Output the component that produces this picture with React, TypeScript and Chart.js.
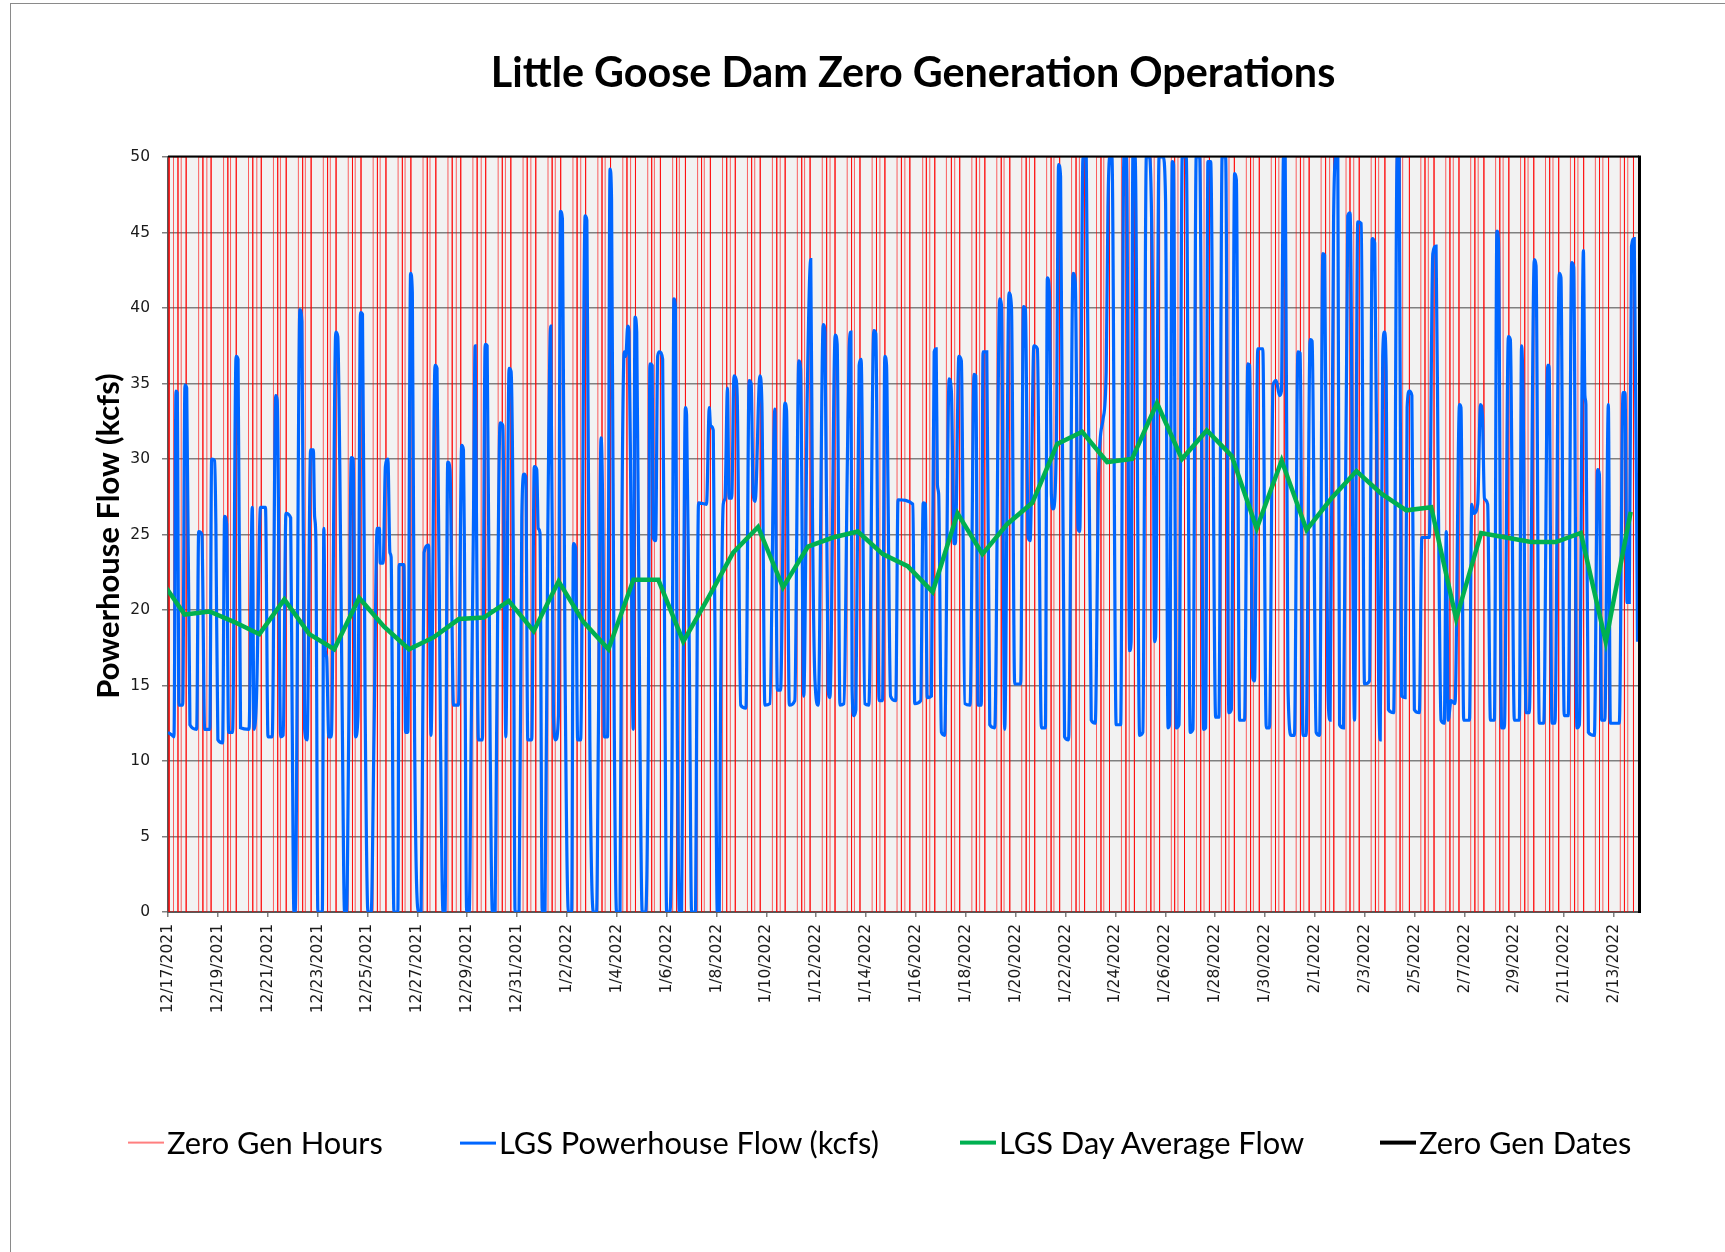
import { useEffect, useRef } from 'react';
import { Chart, registerables } from 'chart.js';

Chart.register(...registerables);

const TITLE = 'Little Goose Dam Zero Generation Operations';
const Y_TITLE = 'Powerhouse Flow (kcfs)';
const SERIES_NAMES = ['Zero Gen Hours', 'LGS Powerhouse Flow (kcfs)', 'LGS Day Average Flow', 'Zero Gen Dates'];

// x axis: days since 12/17/2021 00:00, a label every 2 days
const DATE_LABELS = [
  '12/17/2021', '12/19/2021', '12/21/2021', '12/23/2021', '12/25/2021', '12/27/2021',
  '12/29/2021', '12/31/2021', '1/2/2022', '1/4/2022', '1/6/2022', '1/8/2022',
  '1/10/2022', '1/12/2022', '1/14/2022', '1/16/2022', '1/18/2022', '1/20/2022',
  '1/22/2022', '1/24/2022', '1/26/2022', '1/28/2022', '1/30/2022', '2/1/2022',
  '2/3/2022', '2/5/2022', '2/7/2022', '2/9/2022', '2/11/2022', '2/13/2022',
];
const DAYS_SHOWN = 59;
const Y_TICKS = [0, 5, 10, 15, 20, 25, 30, 35, 40, 45, 50];

// LGS Powerhouse Flow (kcfs): [day since 12/17/2021, kcfs]
const POWERHOUSE_FLOW: number[][] = [
  [0, 11.9], [0.17, 11.7], [0.24, 11.6], [0.32, 34.5], [0.37, 34.4], [0.44, 13.7], [0.59, 13.7], [0.68, 34.9], [0.75, 34.7], [0.88, 12.4],
  [1.15, 12.1], [1.23, 25.2], [1.36, 25.0], [1.47, 12.1], [1.68, 12.1], [1.75, 30.0], [1.87, 29.9], [1.92, 25.7], [2.0, 11.4], [2.19, 11.2],
  [2.27, 26.2], [2.35, 25.7], [2.43, 11.9], [2.59, 11.9], [2.73, 36.8], [2.81, 36.6], [2.91, 12.2], [3.25, 12.1], [3.38, 26.8], [3.45, 12.1],
  [3.55, 14.2], [3.71, 26.8], [3.91, 26.8], [4.01, 11.6], [4.18, 11.6], [4.32, 34.2], [4.38, 33.9], [4.52, 11.6], [4.62, 11.7], [4.73, 26.4],
  [4.92, 26.1], [4.98, 13.0], [5.05, 0], [5.10, 0], [5.29, 39.9], [5.37, 39.1], [5.48, 12.1], [5.58, 11.4], [5.72, 30.6], [5.83, 30.6],
  [5.88, 26.2], [5.93, 24.8], [6.01, 0], [6.19, 0], [6.25, 25.4], [6.31, 17.3], [6.36, 16.9], [6.45, 11.6], [6.55, 11.6], [6.73, 38.4],
  [6.81, 38.1], [6.89, 29.6], [6.99, 12.7], [7.08, 0], [7.16, 0], [7.25, 12.1], [7.35, 30.1], [7.43, 30.0], [7.52, 11.6], [7.62, 13.0],
  [7.72, 39.7], [7.80, 39.6], [7.91, 13.0], [8.02, 0], [8.15, 0], [8.26, 11.4], [8.39, 25.4], [8.48, 25.4], [8.51, 23.1], [8.63, 23.1],
  [8.72, 29.5], [8.82, 30.0], [8.90, 23.8], [8.95, 23.5], [9.06, 0], [9.22, 0], [9.27, 23.0], [9.46, 23.0], [9.53, 11.9], [9.62, 11.9],
  [9.73, 42.3], [9.80, 41.0], [9.89, 11.7], [10.05, 0], [10.15, 0], [10.21, 10.7], [10.27, 23.8], [10.45, 24.3], [10.55, 11.7], [10.71, 36.2],
  [10.79, 36.0], [10.93, 11.4], [11.03, 0], [11.11, 0], [11.22, 29.8], [11.31, 29.3], [11.45, 13.7], [11.65, 13.7], [11.78, 30.9], [11.85, 30.6],
  [11.89, 23.8], [11.98, 0], [12.08, 0], [12.16, 11.7], [12.25, 25.6], [12.32, 37.5], [12.37, 26.7], [12.45, 11.4], [12.61, 11.4], [12.72, 37.6],
  [12.80, 37.5], [12.92, 11.4], [13.01, 0], [13.12, 0], [13.18, 11.7], [13.32, 32.4], [13.43, 32.2], [13.55, 11.6], [13.68, 36.0], [13.76, 35.8],
  [13.85, 23.8], [13.92, 0], [14.08, 0], [14.19, 26.1], [14.28, 29.0], [14.35, 28.8], [14.43, 11.4], [14.59, 11.4], [14.69, 29.5], [14.79, 29.3],
  [14.85, 25.4], [14.92, 25.1], [15.01, 0], [15.12, 0], [15.23, 24.4], [15.35, 38.8], [15.46, 13.0], [15.55, 11.4], [15.66, 13.0], [15.74, 46.4],
  [15.82, 45.9], [15.92, 17.3], [16.06, 0], [16.19, 0], [16.26, 24.4], [16.35, 24.1], [16.43, 11.4], [16.55, 11.4], [16.73, 46.1], [16.80, 45.8],
  [16.92, 11.4], [17.06, 0], [17.19, 0], [17.26, 11.4], [17.37, 31.4], [17.45, 24.4], [17.50, 11.6], [17.63, 11.6], [17.73, 49.2], [17.79, 47.2],
  [17.90, 12.1], [17.99, 0], [18.13, 0], [18.20, 24.4], [18.30, 37.1], [18.36, 36.8], [18.44, 38.8], [18.49, 38.4], [18.57, 26.1], [18.66, 12.1],
  [18.73, 39.4], [18.80, 38.4], [18.93, 11.4], [19.02, 0], [19.16, 0], [19.26, 11.4], [19.33, 36.3], [19.42, 36.2], [19.46, 24.8], [19.56, 24.6],
  [19.64, 36.8], [19.71, 37.1], [19.84, 36.6], [19.93, 14.7], [20.0, 0], [20.13, 0], [20.21, 8.1], [20.29, 40.6], [20.35, 40.1], [20.43, 11.4],
  [20.51, 0], [20.60, 0], [20.67, 17.3], [20.75, 33.4], [20.80, 32.9], [20.91, 16.9], [21.0, 0], [21.16, 0], [21.20, 11.4], [21.28, 27.1],
  [21.60, 27.0], [21.71, 33.4], [21.76, 32.2], [21.87, 31.9], [21.98, 8.1], [22.03, 0], [22.11, 0], [22.16, 13.4], [22.27, 27.0], [22.34, 27.4],
  [22.44, 34.7], [22.50, 27.4], [22.61, 27.4], [22.70, 35.5], [22.78, 35.3], [22.83, 34.2], [22.97, 13.7], [23.18, 13.5], [23.31, 35.2], [23.39, 35.0],
  [23.47, 27.7], [23.55, 27.2], [23.74, 35.5], [23.82, 33.7], [23.94, 13.7], [24.14, 13.8], [24.34, 33.3], [24.44, 14.7], [24.57, 14.7], [24.74, 33.7],
  [24.81, 33.2], [24.92, 13.7], [25.14, 14.0], [25.30, 36.5], [25.37, 36.0], [25.50, 14.3], [25.64, 34.2], [25.78, 43.2], [25.85, 26.1], [25.95, 15.3],
  [26.08, 13.7], [26.28, 38.9], [26.35, 38.4], [26.48, 14.7], [26.55, 14.2], [26.76, 38.2], [26.84, 37.6], [26.95, 13.7], [27.11, 13.8], [27.25, 30.0],
  [27.32, 37.3], [27.39, 38.4], [27.44, 14.7], [27.51, 13.0], [27.59, 13.4], [27.72, 36.2], [27.80, 36.6], [27.95, 13.8], [28.11, 13.7], [28.31, 38.5],
  [28.39, 38.3], [28.52, 14.0], [28.66, 14.0], [28.75, 36.8], [28.82, 36.2], [28.88, 27.7], [28.98, 14.3], [29.19, 14.0], [29.28, 27.3], [29.88, 27.0],
  [29.95, 13.8], [30.19, 14.0], [30.29, 27.1], [30.38, 27.0], [30.45, 14.2], [30.62, 14.3], [30.73, 37.1], [30.81, 37.3], [30.86, 28.3], [30.91, 27.7],
  [31.02, 11.9], [31.15, 11.7], [31.33, 35.3], [31.42, 34.5], [31.53, 24.4], [31.58, 24.4], [31.72, 36.8], [31.82, 36.5], [31.96, 13.8], [32.17, 13.7],
  [32.33, 35.6], [32.40, 35.5], [32.49, 13.7], [32.62, 13.7], [32.69, 37.1], [32.84, 37.1], [32.96, 12.4], [33.16, 12.2], [33.36, 40.6], [33.43, 40.2],
  [33.56, 12.1], [33.73, 41.0], [33.83, 40.1], [33.96, 15.1], [34.20, 15.1], [34.31, 40.1], [34.39, 39.9], [34.50, 24.8], [34.58, 24.6], [34.73, 37.5],
  [34.87, 37.3], [35.03, 12.2], [35.19, 12.2], [35.27, 42.0], [35.36, 40.7], [35.43, 27.7], [35.50, 26.7], [35.63, 30.9], [35.72, 49.5], [35.80, 48.7],
  [35.96, 11.6], [36.12, 11.4], [36.30, 42.3], [36.39, 41.7], [36.50, 25.4], [36.57, 25.2], [36.70, 50], [36.83, 50], [37.03, 12.7], [37.19, 12.5],
  [37.33, 29.3], [37.50, 32.6], [37.63, 35.8], [37.70, 46.6], [37.77, 50], [37.86, 50], [38.03, 12.4], [38.21, 12.4], [38.34, 50], [38.44, 50],
  [38.57, 17.3], [38.63, 17.9], [38.70, 50], [38.79, 50], [38.97, 11.7], [39.10, 11.9], [39.24, 50], [39.37, 50], [39.51, 36.8], [39.57, 17.9],
  [39.61, 18.2], [39.75, 50], [39.91, 50], [40.01, 47.2], [40.11, 12.2], [40.17, 12.4], [40.28, 49.7], [40.33, 49.5], [40.44, 12.2], [40.55, 12.4],
  [40.68, 50], [40.84, 50], [41.00, 11.9], [41.11, 12.1], [41.24, 50], [41.38, 50], [41.54, 12.1], [41.62, 12.2], [41.71, 49.7], [41.82, 49.7],
  [42.02, 12.9], [42.15, 12.9], [42.28, 50], [42.42, 50], [42.55, 13.2], [42.65, 13.4], [42.78, 48.9], [42.85, 48.5], [42.98, 12.7], [43.18, 12.7],
  [43.31, 36.3], [43.38, 36.2], [43.51, 15.5], [43.58, 15.3], [43.71, 37.3], [43.91, 37.3], [44.05, 12.2], [44.18, 12.2], [44.32, 34.9], [44.45, 35.2],
  [44.58, 34.2], [44.66, 34.5], [44.74, 50], [44.81, 50], [44.92, 15.0], [45.05, 11.7], [45.18, 11.7], [45.32, 37.1], [45.41, 37.0], [45.52, 11.7],
  [45.65, 11.7], [45.81, 37.9], [45.89, 37.8], [46.05, 11.9], [46.19, 11.7], [46.32, 43.6], [46.39, 43.5], [46.52, 15.0], [46.61, 12.7], [46.75, 45.9],
  [46.85, 50], [46.92, 50], [46.99, 12.4], [47.15, 12.2], [47.32, 46.1], [47.41, 46.3], [47.59, 12.7], [47.72, 45.7], [47.86, 45.6], [47.99, 15.1],
  [48.19, 15.3], [48.30, 44.6], [48.40, 44.3], [48.56, 14.7], [48.62, 11.4], [48.72, 36.8], [48.79, 38.4], [48.86, 35.8], [48.95, 13.4], [49.16, 13.2],
  [49.30, 50], [49.38, 50], [49.48, 14.3], [49.62, 14.2], [49.70, 33.4], [49.79, 34.5], [49.89, 34.2], [49.99, 13.4], [50.19, 13.2], [50.29, 24.8],
  [50.59, 24.8], [50.73, 43.6], [50.86, 44.1], [50.95, 27.7], [51.06, 12.7], [51.19, 12.5], [51.27, 25.2], [51.35, 12.7], [51.46, 14.0], [51.62, 13.8],
  [51.80, 33.6], [51.86, 33.4], [51.97, 12.7], [52.20, 12.7], [52.29, 27.0], [52.37, 26.4], [52.53, 27.0], [52.64, 33.6], [52.72, 32.9], [52.80, 27.4],
  [52.93, 27.0], [53.04, 12.7], [53.20, 12.7], [53.30, 45.1], [53.36, 44.6], [53.49, 12.2], [53.60, 12.2], [53.76, 38.1], [53.84, 37.9], [54.00, 12.7],
  [54.20, 12.7], [54.29, 37.5], [54.35, 34.2], [54.47, 13.2], [54.60, 13.2], [54.80, 43.2], [54.87, 42.8], [55.00, 12.5], [55.18, 12.5], [55.34, 36.2],
  [55.39, 36.2], [55.51, 12.5], [55.63, 12.5], [55.80, 42.3], [55.87, 42.0], [56.00, 13.0], [56.16, 13.0], [56.30, 43.0], [56.38, 42.7], [56.51, 12.2],
  [56.61, 12.4], [56.77, 43.8], [56.83, 34.2], [56.87, 33.6], [56.97, 11.9], [57.21, 11.7], [57.34, 29.3], [57.41, 29.0], [57.50, 12.7], [57.63, 12.7],
  [57.77, 33.6], [57.85, 12.5], [58.21, 12.5], [58.36, 34.4], [58.44, 34.4], [58.52, 20.5], [58.61, 20.5], [58.70, 44.1], [58.81, 44.6], [58.94, 17.9],
];

// LGS Day Average Flow (kcfs), one value per day from 12/16/2021 to 2/13/2022
const AVG_FIRST_DAY = -1;
const AVG_PLOT_HOUR = 16;
const DAY_AVERAGE_FLOW = [
  22.1,
  19.7, 19.9, 19.2, 18.4, 20.7, 18.4, 17.4, 20.8, 18.9, 17.4,
  18.2, 19.4, 19.5, 20.6, 18.6, 21.9, 19.2, 17.4, 22.0, 22.0,
  17.9, 20.8, 23.8, 25.5, 21.5, 24.2, 24.8, 25.2, 23.7, 22.9,
  21.2, 26.4, 23.7, 25.7, 27.1, 31.0, 31.8, 29.8, 30.0, 33.7,
  30.0, 31.9, 30.2, 25.4, 29.9, 25.3, 27.4, 29.2, 27.7, 26.6,
  26.8, 19.4, 25.1, 24.8, 24.5, 24.5, 25.1, 17.9, 26.5,
];

// Zero Gen Hours: hour-of-day on/off switches for each day (on, off, on, off ...)
const ZERO_GEN_HOURS: number[][] = [
  [0, 1.2, 5.3, 9.6, 12.7, 17.5], [5.5, 9.6, 13.4, 17.5], [5.5, 9.6, 12.2, 17.7], [5.5, 9.6, 13.5, 17.8], [5.5, 9.6, 12.2, 17.8],
  [5.5, 9.6, 12.2, 17.8], [5.5, 9.6, 12.2, 17.8], [5.5, 9.6, 12.2, 17.8], [5.5, 9.6, 12.2, 17.8], [5.5, 9.6, 12.2, 17.8],
  [5.5, 9.6, 12.2, 17.8], [5.5, 9.6, 13.5, 17.8], [5.5, 9.6, 13.5, 17.8], [5.8, 9.8, 12.8, 18.0], [5.8, 9.8, 13.3, 18.0],
  [5.8, 9.8, 12.8, 18.0], [5.8, 9.8, 13.3, 18.0], [5.8, 9.8, 12.8, 18.0], [5.8, 9.8, 13.3, 18.0], [5.8, 9.6, 12.2, 18.0],
  [5.8, 9.6, 12.2, 18.1], [5.8, 9.6, 12.2, 18.1], [5.8, 9.8, 13.3, 18.1], [5.8, 9.8, 12.8, 18.1], [5.8, 10.0, 13.3, 18.1],
  [5.8, 10.0, 12.8, 18.1], [5.8, 10.0, 13.3, 18.1], [5.8, 10.0, 12.8, 18.1], [5.8, 10.0, 13.3, 18.1], [5.8, 10.0, 13.3, 18.1],
  [6.5, 10.0, 13.3, 18.1], [5.3, 10.1, 13.3, 18.1], [5.8, 10.1, 13.3, 18.3], [5.8, 10.1, 12.8, 18.3], [5.8, 10.1, 13.3, 18.3],
  [5.8, 10.1, 12.8, 18.3], [5.8, 10.1, 13.3, 18.3], [5.8, 10.1, 12.8, 18.3], [5.8, 10.1, 13.3, 18.3], [5.8, 10.1, 13.3, 18.5],
  [5.8, 9.0, 12.2, 18.5], [6.0, 10.1, 13.3, 18.5], [6.0, 10.1, 13.3, 18.5], [6.0, 10.1, 12.8, 18.5], [6.0, 10.1, 13.3, 18.5],
  [6.0, 10.1, 13.3, 18.5], [6.0, 10.3, 14.2, 18.2], [6.0, 9.8, 13.4, 18.7], [6.2, 10.3, 13.4, 19.4], [6.2, 10.0, 12.5, 19.0],
  [6.0, 10.0, 13.2, 18.7], [6.0, 10.0, 13.2, 18.7], [6.0, 10.0, 13.2, 18.7], [6.0, 10.0, 13.2, 18.7], [6.0, 10.0, 13.2, 18.7],
  [6.0, 10.0, 13.2, 18.7], [6.0, 10.0, 13.2, 18.7], [6.0, 10.0, 13.2, 18.7], [6.0, 10.0, 13.2, 18.7],
];
const ZERO_GEN_ON = 50;
const ZERO_GEN_OFF = 0;

const COLORS = {
  zeroGen: 'rgba(255, 0, 0, 0.62)',
  zeroGenLegend: '#ff7f7f',
  flow: '#0066ff',
  avg: '#00b050',
  dates: '#000000',
};

function zeroGenPoints() {
  const pts: { x: number; y: number }[] = [];
  ZERO_GEN_HOURS.forEach((hours, day) => {
    for (let i = 0; i + 1 < hours.length; i += 2) {
      const on = day + hours[i] / 24;
      const off = day + hours[i + 1] / 24;
      pts.push({ x: on, y: ZERO_GEN_OFF }, { x: on, y: ZERO_GEN_ON }, { x: off, y: ZERO_GEN_ON }, { x: off, y: ZERO_GEN_OFF });
    }
  });
  return pts;
}

const framePlugin = {
  id: 'frame',
  beforeDraw(chart: any) {
    const { ctx, chartArea: a } = chart;
    ctx.save();
    ctx.fillStyle = '#ffffff';
    ctx.fillRect(0, 0, chart.width, chart.height);
    ctx.fillStyle = '#f2f2f2';
    ctx.fillRect(a.left, a.top, a.right - a.left, a.bottom - a.top);
    ctx.restore();
  },
  afterDatasetsDraw(chart: any) {
    const { ctx, chartArea: a } = chart;
    ctx.save();
    ctx.strokeStyle = '#000000';
    ctx.lineWidth = 2;
    ctx.beginPath();
    ctx.moveTo(a.left, a.top - 0.5);
    ctx.lineTo(a.right, a.top - 0.5);
    ctx.stroke();
    ctx.lineWidth = 3;
    ctx.beginPath();
    ctx.moveTo(a.right + 0.5, a.top - 1.5);
    ctx.lineTo(a.right + 0.5, a.bottom + 1);
    ctx.stroke();
    ctx.restore();
  },
};

function ChartCanvas() {
  const ref = useRef<HTMLCanvasElement | null>(null);
  useEffect(() => {
    if (!ref.current) return;
    const chart = new Chart(ref.current, {
      type: 'line',
      data: {
        datasets: [
          {
            label: SERIES_NAMES[2],
            data: DAY_AVERAGE_FLOW.map((v, i) => ({ x: AVG_FIRST_DAY + i + AVG_PLOT_HOUR / 24, y: v })),
            borderColor: COLORS.avg,
            borderWidth: 4.5,
            pointRadius: 0,
            tension: 0,
            order: 0,
          },
          {
            label: SERIES_NAMES[1],
            data: POWERHOUSE_FLOW.map(([x, y]) => ({ x, y })),
            borderColor: COLORS.flow,
            borderWidth: 3.2,
            pointRadius: 0,
            cubicInterpolationMode: 'monotone',
            order: 1,
          },
          {
            label: SERIES_NAMES[0],
            data: zeroGenPoints(),
            borderColor: COLORS.zeroGen,
            borderWidth: 1,
            pointRadius: 0,
            tension: 0,
            order: 2,
          },
          {
            label: SERIES_NAMES[3],
            data: [],
            borderColor: COLORS.dates,
            borderWidth: 3,
            pointRadius: 0,
            order: 3,
          },
        ],
      },
      options: {
        animation: false,
        responsive: false,
        devicePixelRatio: 1,
        parsing: false as any,
        normalized: true,
        layout: { padding: { left: 0, top: 157, right: 86, bottom: 240 } },
        plugins: {
          legend: { display: false },
          title: { display: false },
          tooltip: { enabled: false },
        },
        scales: {
          x: {
            type: 'linear',
            min: 0,
            max: DAYS_SHOWN,
            afterBuildTicks: (s: any) => {
              s.ticks = DATE_LABELS.map((_, i) => ({ value: i * 2 }));
            },
            afterFit: (s: any) => {
              s.height = 100;
            },
            ticks: {
              autoSkip: false,
              minRotation: 90,
              maxRotation: 90,
              padding: 7,
              color: '#1a1a1a',
              font: { family: 'DejaVu Sans', size: 15.5 },
              callback: (v: any) => DATE_LABELS[Math.round(Number(v) / 2)] ?? '',
            },
            grid: { drawOnChartArea: false, drawTicks: true, tickLength: 5, color: '#7f7f7f', lineWidth: 1.5 },
            border: { display: true, color: '#595959', width: 2 },
          },
          y: {
            type: 'linear',
            min: 0,
            max: 50,
            afterBuildTicks: (s: any) => {
              s.ticks = Y_TICKS.map((v) => ({ value: v }));
            },
            afterFit: (s: any) => {
              s.width = 168;
            },
            ticks: {
              padding: 12,
              color: '#1a1a1a',
              font: { family: 'DejaVu Sans', size: 15.5 },
            },
            grid: { color: '#808080', lineWidth: 1.5, drawTicks: true, tickLength: 6 },
            border: { display: true, color: '#595959', width: 2 },
          },
        },
      },
      plugins: [framePlugin],
    } as any);
    return () => chart.destroy();
  }, []);
  return <canvas ref={ref} width={1725} height={1252} style={{ position: 'absolute', left: 0, top: 0, width: 1725, height: 1252, display: 'block' }} />;
}

const legendItems = [
  { name: SERIES_NAMES[0], color: COLORS.zeroGenLegend, thick: 2, left: 128 },
  { name: SERIES_NAMES[1], color: COLORS.flow, thick: 3, left: 460 },
  { name: SERIES_NAMES[2], color: COLORS.avg, thick: 4, left: 960 },
  { name: SERIES_NAMES[3], color: COLORS.dates, thick: 4, left: 1380 },
];

export default function App() {
  return (
    <div style={{ position: 'absolute', left: 0, top: 0, width: 1725, height: 1252, overflow: 'hidden', background: '#fff' }}>
      <ChartCanvas />
      <div style={{ position: 'absolute', left: 10, top: 3, width: 1730, height: 1260, borderLeft: '1px solid #8a8a8a', borderTop: '1px solid #8a8a8a', pointerEvents: 'none' }} />
      <div
        style={{
          position: 'absolute', left: 913, top: 72, transform: 'translate(-50%, -50%)', whiteSpace: 'nowrap',
          fontFamily: 'Lato, "Open Sans", sans-serif', fontWeight: 700, fontSize: 41.3, lineHeight: 1, color: '#000',
        }}
      >
        {TITLE}
      </div>
      <div
        style={{
          position: 'absolute', left: 107, top: 536, transform: 'translate(-50%, -50%) rotate(-90deg)', whiteSpace: 'nowrap',
          fontFamily: 'Lato, "Open Sans", sans-serif', fontWeight: 700, fontSize: 31, lineHeight: 1, color: '#000',
        }}
      >
        {Y_TITLE}
      </div>
      {legendItems.map((it) => (
        <div
          key={it.name}
          style={{
            position: 'absolute', left: it.left, top: 1143, transform: 'translateY(-50%)', display: 'flex', alignItems: 'center',
            whiteSpace: 'nowrap', fontFamily: 'Lato, "Open Sans", sans-serif', fontSize: 30.8, lineHeight: 1, color: '#000',
          }}
        >
          <span style={{ display: 'inline-block', width: 36, height: it.thick, background: it.color, marginRight: 3 }} />
          <span>{it.name}</span>
        </div>
      ))}
    </div>
  );
}
